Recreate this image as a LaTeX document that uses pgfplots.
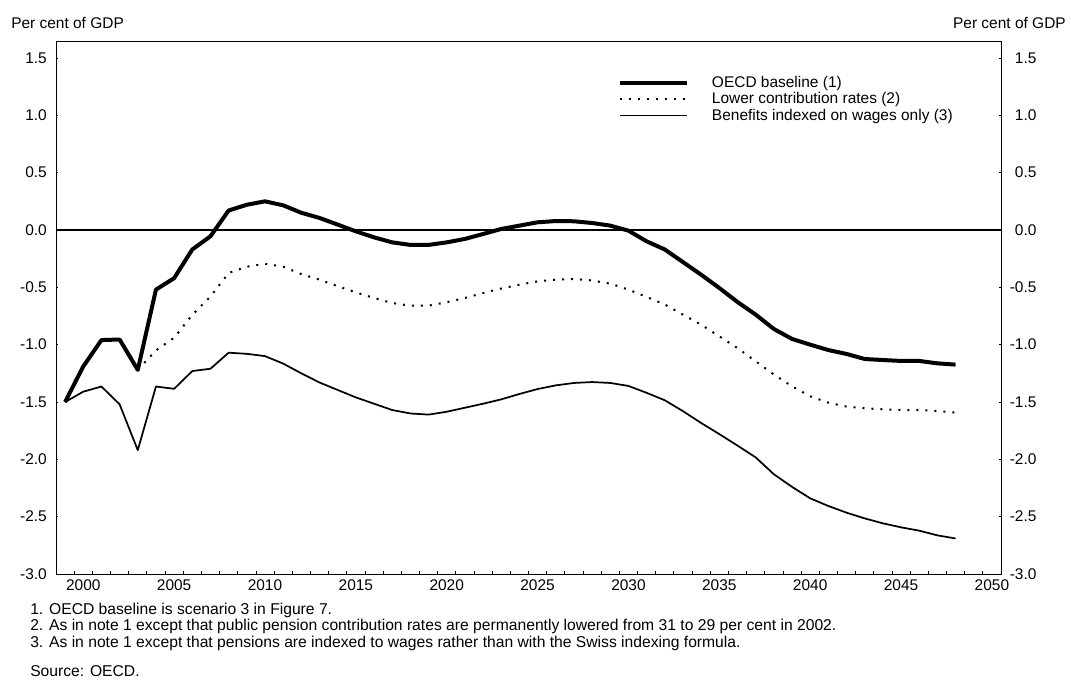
\documentclass[border=0pt]{standalone}
\usepackage{fontspec}
\setmainfont{Liberation Sans}
\usepackage{pgfplots}
\pgfplotsset{compat=1.18}
\usepackage{pgfplotstable}

\newcommand\chartfont{\fontsize{11.6pt}{13.9pt}\selectfont}
\newcommand\notefont{\fontsize{11.75pt}{14pt}\selectfont}

% General government balance effect, per cent of GDP
\pgfplotstableread{
year base lower wages
1999 -1.500 -1.500 -1.500
2000 -1.190 -1.190 -1.410
2001 -0.960 -0.960 -1.365
2002 -0.955 -0.955 -1.520
2003 -1.220 -1.220 -1.920
2004 -0.520 -1.050 -1.365
2005 -0.420 -0.940 -1.385
2006 -0.170 -0.740 -1.230
2007 -0.055 -0.580 -1.210
2008  0.170 -0.375 -1.070
2009  0.220 -0.320 -1.080
2010  0.250 -0.295 -1.100
2011  0.215 -0.320 -1.165
2012  0.150 -0.385 -1.250
2013  0.105 -0.433 -1.330
2014  0.047 -0.490 -1.395
2015 -0.012 -0.544 -1.460
2016 -0.064 -0.593 -1.515
2017 -0.108 -0.637 -1.570
2018 -0.130 -0.660 -1.600
2019 -0.130 -0.660 -1.610
2020 -0.108 -0.630 -1.585
2021 -0.078 -0.593 -1.550
2022 -0.035 -0.550 -1.515
2023  0.009 -0.510 -1.477
2024  0.038 -0.477 -1.430
2025  0.067 -0.448 -1.387
2026  0.078 -0.433 -1.355
2027  0.076 -0.427 -1.334
2028  0.061 -0.440 -1.326
2029  0.038 -0.468 -1.334
2030 -0.006 -0.520 -1.360
2031 -0.099 -0.584 -1.420
2032 -0.170 -0.650 -1.485
2033 -0.280 -0.738 -1.580
2034 -0.390 -0.826 -1.683
2035 -0.506 -0.927 -1.780
2036 -0.628 -1.030 -1.880
2037 -0.738 -1.145 -1.983
2038 -0.863 -1.260 -2.130
2039 -0.950 -1.363 -2.240
2040 -1.000 -1.450 -2.340
2041 -1.047 -1.506 -2.407
2042 -1.081 -1.540 -2.465
2043 -1.125 -1.555 -2.515
2044 -1.134 -1.564 -2.558
2045 -1.142 -1.570 -2.593
2046 -1.142 -1.570 -2.622
2047 -1.163 -1.578 -2.663
2048 -1.174 -1.593 -2.690
}\balance

\pgfplotsset{
  frame/.style={
    at={(42pt,-430.5pt)}, anchor=south west,
    scale only axis, width=708.75pt, height=399.75pt,
    xmin=1998.5, xmax=2050.5, ymin=-3, ymax=1.648,
    ytick={-3,-2.5,-2,-1.5,-1,-0.5,0,0.5,1,1.5},
    yticklabels={-3.0,-2.5,-2.0,-1.5,-1.0,-0.5,0.0,0.5,1.0,1.5},
    tick align=inside,
    major tick length=1.6pt,
    minor tick length=2.6pt,
    tick style={black, line width=0.6pt},
    axis line style={black, line width=0.7pt, -},
  },
}

\begin{document}
\begin{tikzpicture}[font=\chartfont]
\path[use as bounding box] (0,0) rectangle (803.25pt,-509.25pt);

\node[anchor=base west, inner sep=0pt] at (8.25pt,-21.2pt) {Per cent of GDP};
\node[anchor=base east, inner sep=0pt] at (799.5pt,-21.2pt) {Per cent of GDP};

\begin{axis}[
  frame,
  xtick={2000,2005,2010,2015,2020,2025,2030,2035,2040,2045,2050},
  xticklabels={2000,2005,2010,2015,2020,2025,2030,2035,2040,2045,2050},
  minor xtick={1999.5,2000.5,...,2049.5},
  xtick pos=bottom,
  major x tick style={draw=none},
  ytick pos=left,
  xticklabel style={anchor=north, inner sep=0pt, yshift=-3.9pt},
  yticklabel style={anchor=east, inner sep=0pt, xshift=-6.7pt},
  legend style={at={(0.5947,0.891)}, anchor=west, draw=none, fill=none,
    inner sep=0pt, outer sep=0pt, font=\chartfont, cells={anchor=west},
    row sep=2.4pt, nodes={inner sep=0pt},
    /tikz/every odd column/.append style={column sep=17.5pt}},
  legend image code/.code={\draw[#1] (0pt,0pt) -- (50pt,0pt);},
]
\addplot[black, line width=0.8pt, forget plot] coordinates {(1998.5,0) (2050.5,0)};
\addplot[black, line width=3pt, line join=round] table[x=year, y=base] {\balance};
\addplot[black, line width=1.5pt, dash pattern=on 1.5pt off 5.25pt] table[x=year, y=lower] {\balance};
\addplot[black, line width=1.3pt, line join=round] table[x=year, y=wages] {\balance};
\legend{OECD baseline (1), Lower contribution rates (2), Benefits indexed on wages only (3)}
\end{axis}

\begin{axis}[
  frame,
  axis x line=none,
  axis y line*=right,
  ytick pos=right,
  yticklabel style={anchor=east, inner sep=0pt, xshift=26.8pt},
]
\end{axis}

\begin{scope}[font=\notefont]
\node[anchor=base west, inner sep=0pt] at (22.5pt,-460.5pt) {1. OECD baseline is scenario 3 in Figure 7.};
\node[anchor=base west, inner sep=0pt] at (22.5pt,-472.9pt) {2. As in note 1 except that public pension contribution rates are permanently lowered from 31 to 29 per cent in 2002.};
\node[anchor=base west, inner sep=0pt] at (22.5pt,-485.25pt) {3. As in note 1 except that pensions are indexed to wages rather than with the Swiss indexing formula.};
\node[anchor=base west, inner sep=0pt] at (22.5pt,-507.2pt) {Source: OECD.};
\end{scope}
\end{tikzpicture}
\end{document}
